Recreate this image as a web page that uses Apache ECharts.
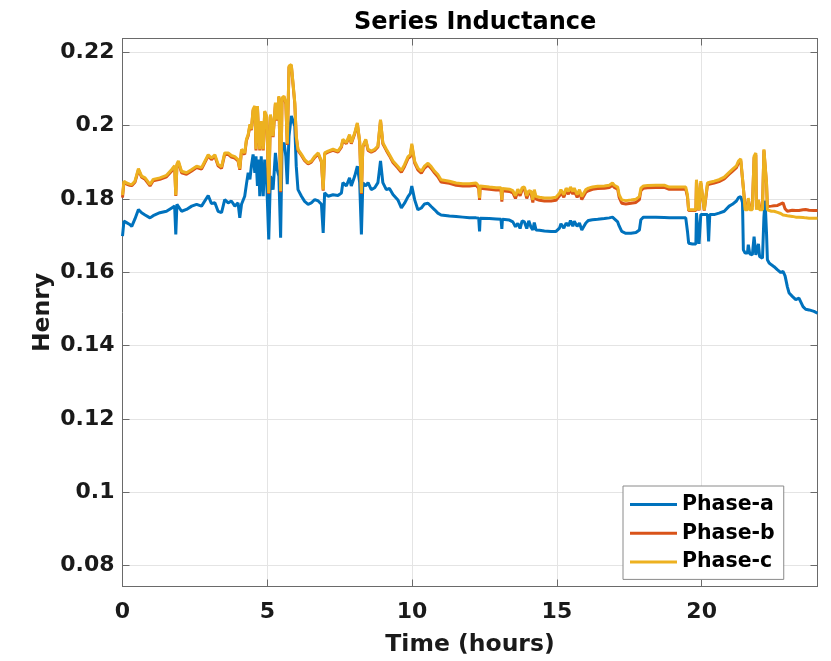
<!DOCTYPE html>
<html>
<head>
<meta charset="utf-8">
<title>Series Inductance</title>
<script src="https://cdn.jsdelivr.net/npm/echarts@6/dist/echarts.min.js"></script>
<style>
  html, body { margin: 0; padding: 0; background: #ffffff; }
  #chart { width: 831px; height: 661px; }
</style>
</head>
<body>
<div id="chart"></div>
<script>
// Time of each sample, hours
const hours = [
  0, 0.05, 0.14, 0.25, 0.32, 0.43, 0.55, 0.66, 0.78, 0.95,
  1.06, 1.29, 1.52, 1.70, 1.80, 1.84, 1.88, 1.93, 2.04, 2.21,
  2.39, 2.56, 2.73, 2.96, 3.07, 3.19, 3.30, 3.42, 3.53, 3.65,
  3.76, 3.88, 3.99, 4.05, 4.11,
  4.22, 4.28, 4.34, 4.40, 4.45, 4.51, 4.57, 4.61, 4.66, 4.70,
  4.74, 4.79, 4.86, 4.91, 4.98, 5.05, 5.11, 5.20, 5.28, 5.34,
  5.40, 5.46, 5.51, 5.58, 5.64, 5.69, 5.75, 5.83, 5.89, 5.95,
  6.00, 6.06,
  6.18, 6.29, 6.41, 6.52, 6.64, 6.76, 6.87, 6.93, 6.98, 7.10,
  7.27, 7.44, 7.56, 7.61, 7.73, 7.84, 7.90, 8.02, 8.11, 8.19,
  8.25, 8.30, 8.40, 8.48, 8.59, 8.71, 8.82, 8.91, 8.99, 9.11,
  9.22, 9.34,
  9.40, 9.51, 9.63, 9.74, 9.86, 9.94, 9.99, 10.09, 10.20, 10.32,
  10.43, 10.55, 10.66, 10.78, 10.89, 11.00, 11.29, 11.52, 11.75, 11.98,
  12.21, 12.30, 12.33, 12.35, 12.67, 12.90, 13.07, 13.10, 13.12, 13.36,
  13.48, 13.57, 13.65, 13.73, 13.80, 13.88, 13.96, 14.03,
  14.11, 14.17, 14.22, 14.28, 14.40, 14.57, 14.80, 14.97, 15.09, 15.14,
  15.24, 15.32, 15.40, 15.47, 15.55, 15.60, 15.70, 15.78, 15.86, 15.92,
  16.00, 16.09, 16.23, 16.41, 16.64, 16.81, 16.92, 16.98, 17.10, 17.15,
  17.24, 17.38, 17.56, 17.73, 17.85, 17.90, 17.99, 18.13, 18.42, 18.71,
  18.88, 19.22, 19.45, 19.51, 19.55, 19.68, 19.80, 19.82, 19.88, 19.91,
  19.97, 20.03, 20.09, 20.14, 20.20, 20.24, 20.28, 20.43, 20.60, 20.78,
  20.95, 21.06, 21.20, 21.27, 21.35, 21.41,
  21.44, 21.50, 21.58, 21.61, 21.66, 21.75, 21.81, 21.87, 21.89, 21.96,
  22.00, 22.10, 22.15, 22.19, 22.24, 22.27, 22.33, 22.41, 22.50, 22.62,
  22.73, 22.79, 22.81, 22.88, 22.96, 23.02, 23.13, 23.25, 23.36, 23.42,
  23.50, 23.59, 23.71, 23.88, 24.00
];

// Series inductance per phase, henry
const phaseA = [
  .1698, .1739, .1735, .1730, .1725, .1745, .1771, .1762, .1756, .1748,
  .1754, .1762, .1766, .1775, .1780, .1703, .1785, .1789, .1766, .1771,
  .1780, .1785, .1780, .1809, .1787, .1789, .1766, .1762, .1798, .1789,
  .1794, .1780, .1789, .1748, .1785,
  .1807, .1840, .1871, .1853, .1889, .1921, .1871, .1916, .1835, .1907,
  .1807, .1916, .1807, .1907, .1844, .1689, .1862, .1825, .1925, .1880,
  .1862, .1694, .1944, .1953, .1916, .1840, .1971, .2026, .2030, .1998,
  .1889, .1825,
  .1807, .1793, .1785, .1789, .1798, .1794, .1785, .1707, .1816, .1807,
  .1811, .1809, .1816, .1844, .1835, .1857, .1835, .1862, .1889, .1844,
  .1703, .1844, .1835, .1844, .1825, .1830, .1844, .1903, .1844, .1825,
  .1828, .1812,
  .1815, .1797, .1775, .1788, .1806, .1815, .1835, .1797, .1770, .1775,
  .1786, .1788, .1779, .1770, .1761, .1756, .1753, .1752, .1750, .1748,
  .1748, .1747, .1711, .1747, .1746, .1745, .1744, .1718, .1744, .1742,
  .1737, .1724, .1733, .1719, .1740, .1737, .1719, .1740,
  .1722, .1715, .1735, .1715, .1714, .1712, .1711, .1711, .1720, .1732,
  .1720, .1734, .1726, .1741, .1725, .1739, .1725, .1734, .1715, .1715,
  .1734, .1741, .1743, .1744, .1746, .1748, .1750, .1745, .1737, .1726,
  .1711, .1706, .1706, .1708, .1715, .1743, .1750, .1750, .1750, .1749,
  .1748, .1748, .1748, .1711, .1679, .1677, .1677, .1761, .1757, .1677,
  .1757, .1757, .1757, .1757, .1757, .1684, .1757, .1757, .1761, .1766,
  .1780, .1785, .1794, .1803, .1806, .1790,
  .1661, .1652, .1652, .1675, .1650, .1647, .1697, .1647, .1647, .1677,
  .1643, .1638, .1750, .1795, .1705, .1634, .1625, .1620, .1615, .1606,
  .1599, .1600, .1602, .1590, .1560, .1543, .1534, .1525, .1529, .1525,
  .1506, .1499, .1497, .1493, .1488
];

const phaseB = [
  .1803, .1845, .1840, .1837, .1836, .1845, .1879, .1859, .1853, .1835,
  .1849, .1853, .1860, .1876, .1887, .1808, .1892, .1900, .1871, .1867,
  .1876, .1885, .1881, .1917, .1907, .1916, .1890, .1883, .1921, .1921,
  .1914, .1911, .1903, .1879, .1931,
  .1921, .1959, .1972, .2000, .1987, .2041, .2050, .1932, .2050, .1972,
  .1932, .2009, .1932, .2036, .2022, .1813, .2027, .1968, .2059, .2013,
  .2077, .1818, .2072, .2077, .2059, .1947, .2159, .2163, .2159, .2059,
  .1968, .1932,
  .1918, .1904, .1895, .1900, .1913, .1922, .1900, .1822, .1922, .1927,
  .1932, .1927, .1941, .1959, .1950, .1972, .1950, .1977, .2004, .1954,
  .1813, .1941, .1959, .1932, .1927, .1932, .1941, .2013, .1950, .1932,
  .1917, .1899,
  .1898, .1884, .1872, .1888, .1910, .1915, .1945, .1897, .1879, .1870,
  .1884, .1892, .1883, .1870, .1860, .1846, .1842, .1837, .1835, .1835,
  .1837, .1829, .1797, .1829, .1826, .1824, .1824, .1792, .1822, .1820,
  .1816, .1801, .1820, .1808, .1824, .1826, .1801, .1816,
  .1813, .1790, .1818, .1799, .1796, .1794, .1794, .1796, .1808, .1818,
  .1804, .1822, .1813, .1825, .1813, .1822, .1804, .1818, .1798, .1794,
  .1818, .1822, .1826, .1828, .1829, .1831, .1837, .1831, .1826, .1804,
  .1788, .1786, .1788, .1790, .1798, .1822, .1829, .1830, .1831, .1831,
  .1826, .1826, .1826, .1805, .1768, .1768, .1768, .1847, .1843, .1768,
  .1843, .1838, .1768, .1768, .1838, .1840, .1840, .1843, .1847, .1854,
  .1867, .1875, .1885, .1898, .1904, .1902,
  .1830, .1779, .1779, .1798, .1779, .1779, .1912, .1920, .1779, .1797,
  .1779, .1779, .1932, .1935, .1840, .1779, .1779, .1780, .1781, .1782,
  .1786, .1791, .1789, .1773, .1766, .1767, .1769, .1768, .1768, .1769,
  .1770, .1771, .1769, .1768, .1768
];

const phaseC = [
  .1810, .1848, .1843, .1840, .1839, .1848, .1882, .1862, .1857, .1839,
  .1853, .1857, .1864, .1880, .1890, .1810, .1895, .1903, .1875, .1871,
  .1880, .1889, .1885, .1920, .1911, .1920, .1894, .1887, .1925, .1925,
  .1918, .1915, .1907, .1882, .1935,
  .1925, .1962, .1975, .2003, .1990, .2044, .2053, .1935, .2053, .1975,
  .1935, .2012, .1935, .2039, .2025, .1816, .2030, .1971, .2062, .2016,
  .2080, .1821, .2075, .2080, .2062, .1950, .2162, .2166, .2162, .2062,
  .1971, .1935,
  .1921, .1907, .1898, .1903, .1916, .1925, .1903, .1825, .1925, .1930,
  .1935, .1930, .1944, .1962, .1953, .1975, .1953, .1980, .2007, .1957,
  .1816, .1944, .1962, .1935, .1930, .1935, .1944, .2016, .1953, .1935,
  .1920, .1903,
  .1902, .1888, .1877, .1893, .1915, .1920, .1950, .1902, .1884, .1875,
  .1889, .1897, .1888, .1875, .1866, .1852, .1848, .1843, .1841, .1841,
  .1843, .1835, .1802, .1835, .1832, .1830, .1830, .1797, .1828, .1826,
  .1822, .1808, .1826, .1815, .1830, .1832, .1808, .1822,
  .1820, .1797, .1825, .1806, .1804, .1802, .1802, .1804, .1815, .1825,
  .1811, .1829, .1820, .1832, .1820, .1829, .1811, .1825, .1806, .1802,
  .1825, .1829, .1832, .1834, .1835, .1837, .1843, .1837, .1832, .1811,
  .1797, .1795, .1797, .1799, .1806, .1829, .1835, .1836, .1837, .1837,
  .1832, .1832, .1832, .1811, .1770, .1770, .1770, .1852, .1848, .1770,
  .1848, .1843, .1770, .1770, .1843, .1845, .1845, .1848, .1852, .1859,
  .1872, .1880, .1890, .1903, .1909, .1907,
  .1830, .1770, .1770, .1802, .1770, .1770, .1916, .1925, .1770, .1797,
  .1770, .1770, .1935, .1938, .1843, .1770, .1766, .1766, .1766, .1763,
  .1760, .1758, .1756, .1755, .1754, .1752, .1752, .1750, .1750, .1749,
  .1749, .1748, .1747, .1747, .1747
];

const seriesNames = ['Phase-a', 'Phase-b', 'Phase-c'];
const xTicks = [0, 5, 10, 15, 20];
const yTicks = [0.08, 0.1, 0.12, 0.14, 0.16, 0.18, 0.2, 0.22];

const FONT = 'DejaVu Sans';
const COLORS = ['#0072BD', '#D95319', '#EDB120'];
const AXIS_COLOR = '#6a6a6a';
const GRID_COLOR = '#e4e4e4';
const TEXT_COLOR = '#1a1a1a';

const toPairs = (vals) => hours.map((t, i) => [t, vals[i]]);

const chart = echarts.init(document.getElementById('chart'), null, { renderer: 'canvas' });

const lineSeries = [phaseA, phaseB, phaseC].map((vals, k) => ({
  name: seriesNames[k],
  type: 'line',
  xAxisIndex: 0,
  yAxisIndex: 0,
  data: toPairs(vals),
  showSymbol: false,
  symbol: 'none',
  color: COLORS[k],
  lineStyle: { width: 3, color: COLORS[k] },
  emphasis: { disabled: true },
  clip: true,
  z: 2 + k
}));

const labelStyle = {
  fontFamily: FONT,
  fontWeight: 'bold',
  fontSize: 22,
  color: TEXT_COLOR
};

chart.setOption({
  animation: false,
  backgroundColor: '#ffffff',
  title: {
    text: 'Series Inductance',
    left: 354,
    top: 11,
    padding: 0,
    textStyle: { fontFamily: FONT, fontWeight: 'bold', fontSize: 24, color: '#000000' }
  },
  legend: {
    orient: 'vertical',
    left: 623,
    top: 486,
    padding: [8, 9, 7, 7],
    itemGap: 7.7,
    itemWidth: 47,
    itemHeight: 3,
    icon: 'rect',
    backgroundColor: '#ffffff',
    borderColor: '#8a8a8a',
    borderWidth: 1,
    borderRadius: 0,
    data: seriesNames,
    textStyle: { fontFamily: FONT, fontWeight: 'bold', fontSize: 20.5, color: '#000000' }
  },
  grid: {
    left: 122.5,
    right: 13.5,
    top: 38.5,
    bottom: 74.5,
    containLabel: false,
    outerBoundsMode: 'none'
  },
  xAxis: [
    {
      type: 'value',
      position: 'bottom',
      min: 0,
      max: 24,
      name: 'Time (hours)',
      nameLocation: 'middle',
      nameGap: 46.5,
      nameMoveOverlap: false,
      nameTextStyle: { fontFamily: FONT, fontWeight: 'bold', fontSize: 23.5, color: TEXT_COLOR },
      axisLine: { show: true, onZero: false, lineStyle: { color: AXIS_COLOR, width: 1 } },
      axisTick: { show: true, inside: true, length: 7, customValues: xTicks, lineStyle: { color: AXIS_COLOR } },
      axisLabel: Object.assign({ customValues: xTicks, margin: 15 }, labelStyle),
      splitLine: { show: true, lineStyle: { color: GRID_COLOR, width: 1 } }
    },
    {
      type: 'value',
      position: 'top',
      min: 0,
      max: 24,
      axisLine: { show: true, onZero: false, lineStyle: { color: AXIS_COLOR, width: 1 } },
      axisTick: { show: true, inside: true, length: 7, customValues: xTicks, lineStyle: { color: AXIS_COLOR } },
      axisLabel: { show: false },
      splitLine: { show: false }
    }
  ],
  yAxis: [
    {
      type: 'value',
      position: 'left',
      min: 0.0743,
      max: 0.2237,
      name: 'Henry',
      nameLocation: 'middle',
      nameGap: 68,
      nameMoveOverlap: false,
      nameTextStyle: { fontFamily: FONT, fontWeight: 'bold', fontSize: 23.5, color: TEXT_COLOR },
      axisLine: { show: true, onZero: false, lineStyle: { color: AXIS_COLOR, width: 1 } },
      axisTick: { show: true, inside: true, length: 7, customValues: yTicks, lineStyle: { color: AXIS_COLOR } },
      axisLabel: Object.assign({
        customValues: yTicks,
        margin: 8,
        padding: [15, 0, 0, 0],
        formatter: (v) => String(v)
      }, labelStyle),
      splitLine: { show: true, lineStyle: { color: GRID_COLOR, width: 1 } }
    },
    {
      type: 'value',
      position: 'right',
      min: 0.0743,
      max: 0.2237,
      axisLine: { show: true, onZero: false, lineStyle: { color: AXIS_COLOR, width: 1 } },
      axisTick: { show: true, inside: true, length: 7, customValues: yTicks, lineStyle: { color: AXIS_COLOR } },
      axisLabel: { show: false },
      splitLine: { show: false }
    }
  ],
  series: lineSeries
});
</script>
</body>
</html>
